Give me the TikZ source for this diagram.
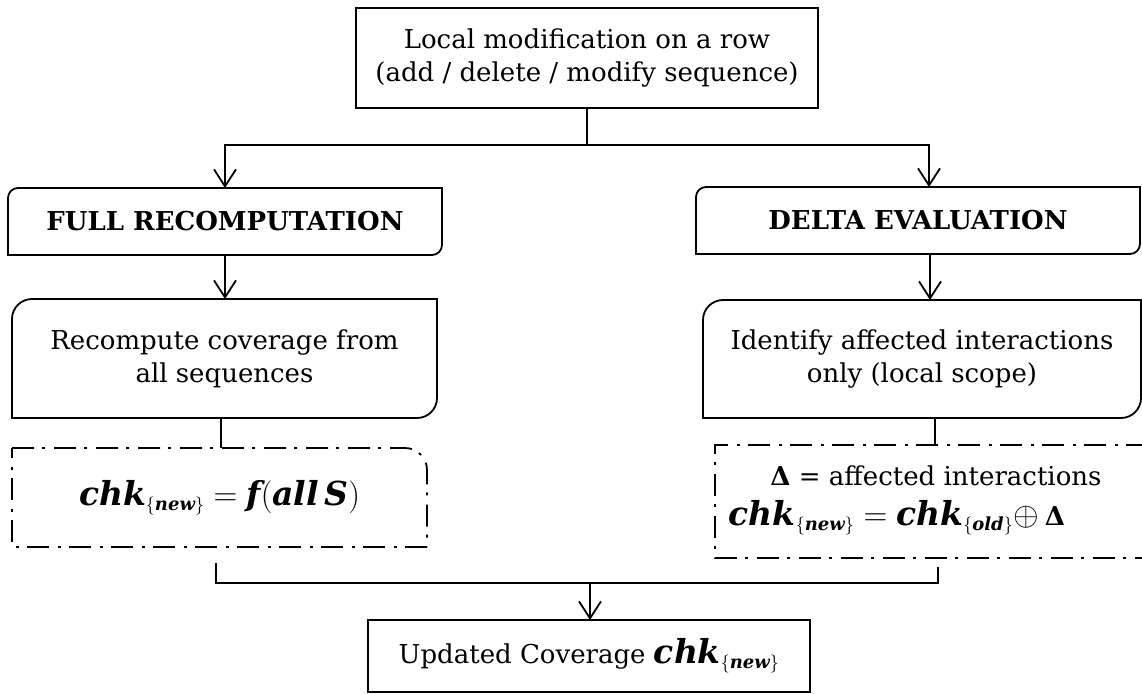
\RequirePackage{fix-cm}
\documentclass[tikz,border=0pt]{standalone}
\usepackage{amsmath}
\usepackage{fontspec}
\setmainfont{DejaVu Serif}
\newfontfamily\bifont{DejaVu Serif}
\usetikzlibrary{arrows.meta}
\DeclareMathSizes{33}{33}{18}{13}
\newcommand\bi[1]{\text{\bifont\bfseries\itshape #1}}
\newcommand\chkv[1]{\bi{chk}_{\{\bi{#1}\}}}
\newcommand\mathsz{\fontsize{33}{33}\selectfont}
\tikzset{
  ln/.style={line width=1.8pt, line cap=rect},
  cn/.style={line width=1.8pt},
  arr/.style={line width=1.8pt, -{Straight Barb[length=17pt,width=22pt]}},
  box/.style={draw=none, inner sep=0pt, outer sep=0pt, align=center, font=\fontsize{26}{33}\selectfont},
  dd/.style={line width=1.8pt, dash pattern=on 22pt off 8pt on 3pt off 9pt},
}
\begin{document}
\begin{tikzpicture}[x=1pt,y=-1pt]
\useasboundingbox (0,0) rectangle (1142,693);
% nodes
\node[box, minimum width=462pt, minimum height=100pt] (top) at (587,58)
  {Local modification on a row\\(add / delete / modify sequence)};
\node[box, minimum width=434pt, minimum height=67pt] (full) at (225,221.5)
  {\bfseries FULL RECOMPUTATION};
\node[box, minimum width=444pt, minimum height=67pt] (delta) at (918,220.5)
  {\bfseries DELTA EVALUATION};
\node[box, minimum width=425pt, minimum height=119pt] (rec) at (224.5,358.5)
  {Recompute coverage from\\all sequences};
\node[box, minimum width=438pt, minimum height=118pt] (ident) at (922,359)
  {Identify affected interactions\\only (local scope)};
\node[box, minimum width=415pt, minimum height=99pt] (dd1) at (219.5,497.5)
  {\mathsz$\chkv{new} = \bi{f}(\bi{all}\,\bi{S})$};
\node[box, minimum width=433pt, minimum height=113pt] (dd2) at (931.5,501.5) {};
\node[box] (dd2t) at (936,500)
  {\textbf{Δ} = affected interactions\\[7pt]{\mathsz$\chkv{new} = \chkv{old} \oplus$}\hspace{6pt}\textbf{Δ}\rule{78pt}{0pt}};
\node[box, minimum width=442pt, minimum height=72pt] (final) at (589,656)
  {Updated Coverage {\mathsz$\chkv{new}$}};
% borders
\draw[ln] (top.north west) rectangle (top.south east);
\draw[ln, rounded corners=10pt] (full.south west) -- (full.north west) -- (full.north east);
\draw[ln, rounded corners=10pt] (full.north east) -- (full.south east) -- (full.south west);
\draw[ln, rounded corners=10pt] (delta.south west) -- (delta.north west) -- (delta.north east);
\draw[ln, rounded corners=10pt] (delta.north east) -- (delta.south east) -- (delta.south west);
\draw[ln, rounded corners=20pt] (rec.south west) -- (rec.north west) -- (rec.north east);
\draw[ln, rounded corners=20pt] (rec.north east) -- (rec.south east) -- (rec.south west);
\draw[ln, rounded corners=20pt] (ident.south west) -- (ident.north west) -- (ident.north east);
\draw[ln, rounded corners=20pt] (ident.north east) -- (ident.south east) -- (ident.south west);
\draw[dd, rounded corners=22pt] (dd1.north west) -- (dd1.north east) -- (dd1.south east);
\draw[dd] (dd1.south east) -- (dd1.south west) -- (dd1.north west);
\draw[dd] (dd2.north east) -- (dd2.north west) -- (dd2.south west) -- (dd2.south east);
\draw[ln] (final.north west) rectangle (final.south east);
% helper coordinates
\coordinate (j) at (587,145);
\coordinate (xd) at (929,0);
\coordinate (xe) at (930,0);
\coordinate (xf) at (221,0);
\coordinate (xg) at (935,0);
\coordinate (bl) at (216,563);
\coordinate (br) at (938,567);
\coordinate (m) at (590,583);
% connectors
\draw[cn] (top.south) -- (j);
\draw[arr] (j) -| (full.north);
\draw[arr] (j) -| (delta.north -| xd);
\draw[arr] (full.south) -- (full.south |- rec.north);
\draw[arr] (delta.south -| xe) -- (ident.north -| xe);
\draw[cn] (rec.south -| xf) -- (dd1.north -| xf);
\draw[cn] (ident.south -| xg) -- (dd2.north -| xg);
\draw[cn] (bl) |- (m) -| (br);
\draw[arr] (m) -- (final.north -| m);
\end{tikzpicture}
\end{document}
